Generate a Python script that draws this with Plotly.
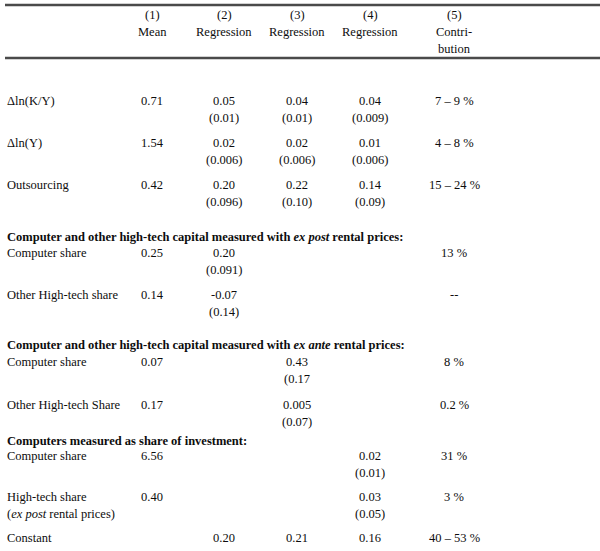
import plotly.graph_objects as go

# ---- table content -------------------------------------------------------
col_numbers = ["(1)", "(2)", "(3)", "(4)", "(5)"]
col_titles = ["Mean", "Regression", "Regression", "Regression", "Contri-"]
col_titles_2 = ["", "", "", "", "bution"]

row_labels = [
    "Δln(K/Y)", "Δln(Y)", "Outsourcing",
    "Computer share", "Other High-tech share",
    "Computer share", "Other High-tech Share",
    "Computer share", "High-tech share", "Constant",
]
row_labels_2 = ["", "", "", "", "", "", "", "", "(<i>ex post</i> rental prices)", ""]

means = ["0.71", "1.54", "0.42", "0.25", "0.14", "0.07", "0.17", "6.56", "0.40", ""]
reg2 = ["0.05", "0.02", "0.20", "0.20", "-0.07", "", "", "", "", "0.20"]
reg2_se = ["(0.01)", "(0.006)", "(0.096)", "(0.091)", "(0.14)", "", "", "", "", ""]
reg3 = ["0.04", "0.02", "0.22", "", "", "0.43", "0.005", "", "", "0.21"]
reg3_se = ["(0.01)", "(0.006)", "(0.10)", "", "", "(0.17", "(0.07)", "", "", ""]
reg4 = ["0.04", "0.01", "0.14", "", "", "", "", "0.02", "0.03", "0.16"]
reg4_se = ["(0.009)", "(0.006)", "(0.09)", "", "", "", "", "(0.01)", "(0.05)", ""]
contrib = ["7 – 9 %", "4 – 8 %", "15 – 24 %", "13 %", "--", "8 %", "0.2 %", "31 %", "3 %", "40 – 53 %"]

section_titles = [
    "Computer and other high-tech capital measured with <i>ex post</i> rental prices:",
    "Computer and other high-tech capital measured with <i>ex ante</i> rental prices:",
    "Computers measured as share of investment:",
]

# ---- layout (pixel grid) -------------------------------------------------
W, H = 600, 551
FONT = "Liberation Serif, Times New Roman, serif"
FS = 12.5
INK = "#0d0d0d"
label_x = 5
col_x = [152, 224, 297, 370, 454]
row_y = [101, 143, 185, 253, 295, 362, 405, 456, 497, 538]
se_dy = 17
section_y = [237, 345, 441]
header_y = [15, 32, 49]

fig = go.Figure()


def put(x, y, text, anchor="center", bold=False):
    if not text:
        return
    fig.add_annotation(
        x=x, y=y, text=f"<b>{text}</b>" if bold else text,
        xref="x", yref="y", showarrow=False,
        xanchor=anchor, yanchor="middle",
        font={"family": FONT, "size": FS, "color": INK},
    )


# header
for i, cx in enumerate(col_x):
    put(cx, header_y[0], col_numbers[i])
    put(cx, header_y[1], col_titles[i])
    put(cx, header_y[2], col_titles_2[i])

# body rows
columns = [means, reg2, reg3, reg4, contrib]
se_columns = [None, reg2_se, reg3_se, reg4_se, None]
for r, y in enumerate(row_y):
    put(label_x, y, row_labels[r], anchor="left")
    put(label_x, y + se_dy, row_labels_2[r], anchor="left")
    for c, cx in enumerate(col_x):
        put(cx, y, columns[c][r])
        if se_columns[c] is not None:
            put(cx, y + se_dy, se_columns[c][r])

for y, title in zip(section_y, section_titles):
    put(label_x, y, title, anchor="left", bold=True)

# rules
for y in (5, 58):
    fig.add_shape(type="line", xref="x", yref="y", x0=5, x1=600, y0=y, y1=y,
                  line={"color": "#4a4a4a", "width": 2.5})

fig.update_layout(
    width=W, height=H,
    margin={"l": 0, "r": 0, "t": 0, "b": 0},
    paper_bgcolor="white", plot_bgcolor="white",
    showlegend=False,
    xaxis={"range": [0, W], "visible": False, "fixedrange": True},
    yaxis={"range": [H, 0], "visible": False, "fixedrange": True},
)

# page body has a default 8px margin; drop it so the table sits at the corner
fig.write_html(
    "out.html",
    config={"displayModeBar": False},
    post_script="document.body.style.margin='0px';document.body.style.overflow='hidden';",
)
